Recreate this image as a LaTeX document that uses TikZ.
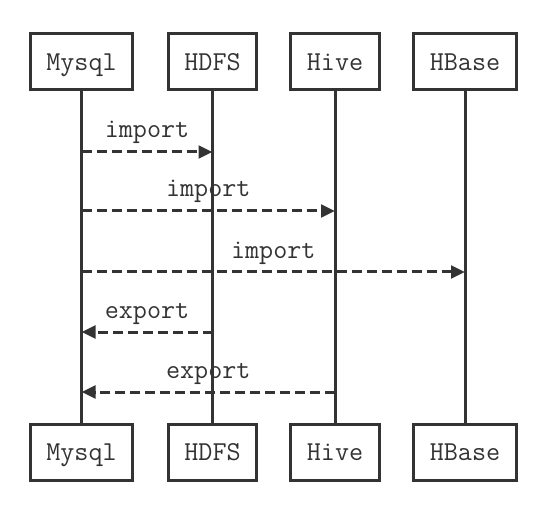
\documentclass[tikz,border=0pt]{standalone}
\usepackage{fontspec}
\usetikzlibrary{positioning, arrows.meta}
\definecolor{seqgray}{HTML}{333333}
\tikzset{>=latex}
\tikzset{
    actor/.style = {rectangle, draw=seqgray, line width=2.25pt, minimum height=42pt,
                        inner xsep=12pt, text height=15pt, text depth=2.2pt, text=seqgray,
                        font=\ttfamily\fontsize{20.5}{22}\selectfont},
    lifeline/.style = {draw=seqgray, line width=2.25pt},
    msg/.style = {draw=seqgray, line width=2.25pt, dash pattern=on 7.5pt off 3.75pt,
                        -{Triangle[length=10.5pt, width=9.5pt]}},
    msglabel/.style = {anchor=base, yshift=10.5pt, inner sep=0pt, text=seqgray,
                        font=\ttfamily\fontsize{20.5}{22}\selectfont}
}
\begin{document}
\begin{tikzpicture}[x=0.75pt, y=-0.75pt]
		\useasboundingbox (0,0) rectangle (548,505);
		% actors, top row
		\node (mysqlTop) [actor] at (81.5,61.5) {Mysql};
		\node (hdfsTop) [actor] at (212.5,61.5) {HDFS};
		\node (hiveTop) [actor] at (335,61.5) {Hive};
		\node (hbaseTop) [actor] at (465,61.5) {HBase};
		% actors, bottom row
		\node (mysqlBot) [actor] at (81.5,452) {Mysql};
		\node (hdfsBot) [actor] at (212.5,452) {HDFS};
		\node (hiveBot) [actor] at (335,452) {Hive};
		\node (hbaseBot) [actor] at (465,452) {HBase};
		% lifelines
		\draw [lifeline] (mysqlTop) -- (mysqlBot);
		\draw [lifeline] (hdfsTop) -- (hdfsBot);
		\draw [lifeline] (hiveTop) -- (hiveBot);
		\draw [lifeline] (hbaseTop) -- (hbaseBot);
		% message end points
		\coordinate (imp1a) at (mysqlTop |- 0,152);
		\coordinate (imp1b) at (hdfsTop |- 0,152);
		\coordinate (imp2a) at (mysqlTop |- 0,211);
		\coordinate (imp2b) at (hiveTop |- 0,211);
		\coordinate (imp3a) at (mysqlTop |- 0,272);
		\coordinate (imp3b) at (hbaseTop |- 0,272);
		\coordinate (exp1a) at (hdfsTop |- 0,332);
		\coordinate (exp1b) at (mysqlTop |- 0,332);
		\coordinate (exp2a) at (hiveTop |- 0,392);
		\coordinate (exp2b) at (mysqlTop |- 0,392);
		% messages
		\draw [msg] (imp1a) -- node[msglabel] {import} (imp1b);
		\draw [msg] (imp2a) -- node[msglabel] {import} (imp2b);
		\draw [msg] (imp3a) -- node[msglabel] {import} (imp3b);
		\draw [msg] (exp1a) -- node[msglabel] {export} (exp1b);
		\draw [msg] (exp2a) -- node[msglabel] {export} (exp2b);
	\end{tikzpicture}
\end{document}
